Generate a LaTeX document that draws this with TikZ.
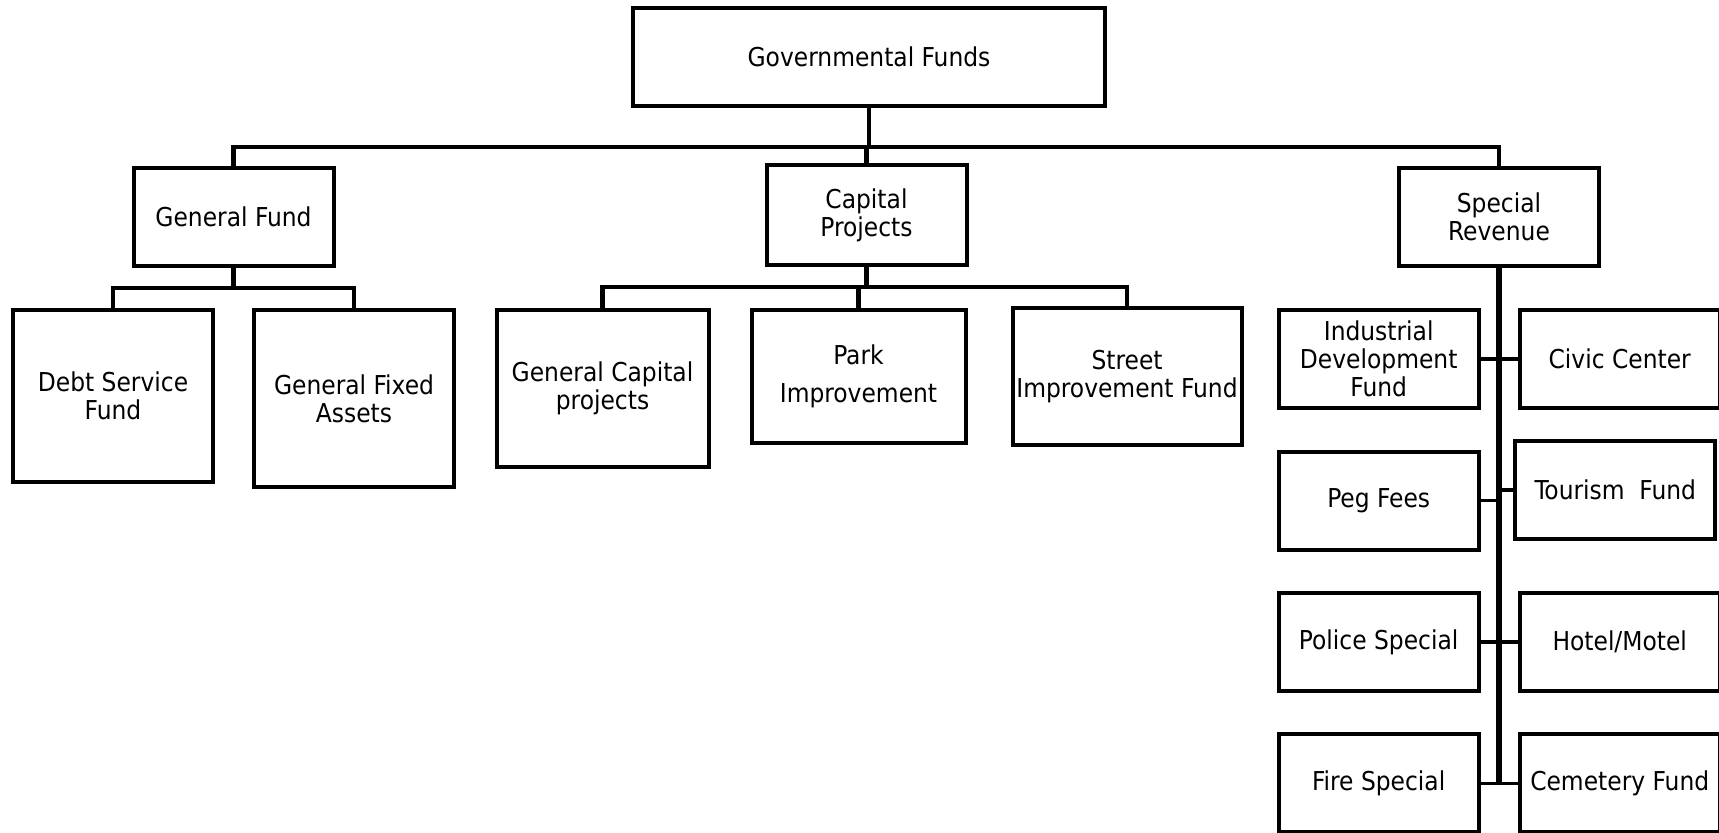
\documentclass[tikz,border=0pt]{standalone}
\usepackage{fontspec}
\setmainfont{DejaVu Sans Condensed}
\usetikzlibrary{positioning}

\begin{document}
\begin{tikzpicture}[
x=0.5pt, y=-0.5pt,
font=\fontsize{13}{14}\selectfont,
box/.style={draw, line width=2pt, align=center, inner sep=1pt, minimum width=100pt, minimum height=49pt},
link/.style={line width=2.2pt},
spine/.style={line width=2.6pt},
stub/.style={line width=1.8pt}
]
\useasboundingbox (0,0) rectangle (1719,833);

\node[box, minimum width=236pt] (gov) at (869,57) {Governmental Funds};
\node[box] (genfund) at (233.5,217) {General Fund};
\node[box, minimum height=50pt] (capproj) at (866.5,215) {Capital\\Projects};
\node[box] (specrev) at (1499,217) {Special\\Revenue};

\node[box, anchor=north, minimum height=86pt] (debt) at (113,308) {Debt Service\\Fund};
\node[box, anchor=north, minimum height=88.5pt] (fixed) at (354,308) {General Fixed\\Assets};
\node[box, anchor=north, minimum width=106pt, minimum height=78.5pt] (gencap) at (602.5,308) {General Capital\\projects};
\node[box, anchor=north, minimum width=107pt, minimum height=66.5pt] (park) at (858.5,308) {Park\\[5pt]Improvement};
\node[box, anchor=north, minimum width=114.5pt, minimum height=68.5pt] (street) at (1127,306) {Street\\Improvement Fund};

\node[box] (indust) at (1378.7,359) {Industrial\\Development\\Fund};
\node[box, below=19.8pt of indust] (peg) {Peg Fees};
\node[box, below=19.8pt of peg] (police) {Police Special};
\node[box, below=19.6pt of police] (fire) {Fire Special};
\node[box, right=18.5pt of indust] (civic) {Civic Center};
\node[box] (tourism) at (1615.3,490) {Tourism~~Fund};
\node[box, right=18.5pt of police] (hotel) {Hotel/Motel};
\node[box, right=18.5pt of fire] (cemetery) {Cemetery Fund};

\coordinate (topbus) at (0,147);
\coordinate (gfbus) at (0,288);
\coordinate (cpbus) at (0,287);

\draw[link] (gov.south) -- (gov.south |- topbus);
\draw[link] (genfund.north) -- (genfund.north |- topbus) -- (specrev.north |- topbus) -- (specrev.north);
\draw[link] (capproj.north) -- (capproj.north |- topbus);

\draw[link] (genfund.south) -- (genfund.south |- gfbus);
\draw[link] (debt.north) -- (debt.north |- gfbus) -- (fixed.north |- gfbus) -- (fixed.north);

\draw[link] (capproj.south) -- (capproj.south |- cpbus);
\draw[link] (gencap.north) -- (gencap.north |- cpbus) -- (street.north |- cpbus) -- (street.north);
\draw[link] (park.north) -- (park.north |- cpbus);

\draw[spine] (specrev.south) -- (specrev.south |- fire.east);
\draw[stub] (indust.east) -- (indust.east -| specrev.south);
\draw[stub] (peg.east) -- (peg.east -| specrev.south);
\draw[stub] (police.east) -- (police.east -| specrev.south);
\draw[stub] (fire.east) -- (fire.east -| specrev.south);
\draw[stub] (civic.west) -- (civic.west -| specrev.south);
\draw[stub] (tourism.west) -- (tourism.west -| specrev.south);
\draw[stub] (hotel.west) -- (hotel.west -| specrev.south);
\draw[stub] (cemetery.west) -- (cemetery.west -| specrev.south);
\end{tikzpicture}
\end{document}
